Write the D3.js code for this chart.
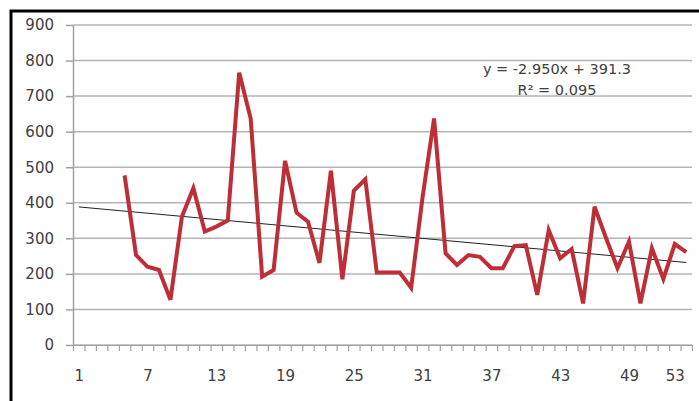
<!DOCTYPE html>
<html>
<head>
<meta charset="utf-8">
<script src="https://cdn.jsdelivr.net/npm/d3@7"></script>
<style>
  body { margin: 0; background: #fff; }
  text { font-family: "DejaVu Sans", sans-serif; fill: #404040; }
</style>
</head>
<body>
<div id="chart"></div>
<script>
// categories 1..54, the series begins at week 5
var categories = d3.range(1, 55)
var firstCat = 5
var values = [477, 253, 220, 211, 127, 361, 441, 319, 333, 350,
  766, 637, 192, 211, 518, 372, 347, 231, 490, 185,
  434, 466, 204, 204, 204, 161, 417, 637, 258, 225,
  253, 248, 216, 216, 278, 281, 141, 323, 244, 270,
  117, 389, 301, 216, 291, 117, 272, 186, 284, 261]
var xLabels = [1, 7, 13, 19, 25, 31, 37, 43, 49, 53]
var yTicks = [0, 100, 200, 300, 400, 500, 600, 700, 800, 900]
var trendSlope = -2.950
var trendIntercept = 391.3
var eqText = ['y = -2.950x + 391.3', 'R² = 0.095']

var W = 699, H = 401
var plotL = 73, plotR = 692, plotT = 25, plotB = 345

var svg = d3.select('#chart').append('svg')
  .attr('width', W).attr('height', H)

// outer frame (runs off the picture at right and bottom)
svg.append('rect')
  .attr('x', 11).attr('y', 11)
  .attr('width', W + 20).attr('height', H + 20)
  .attr('fill', 'none').attr('stroke', '#000').attr('stroke-width', 3)

var x = d3.scaleLinear().domain([0.5, categories.length + 0.5]).range([plotL, plotR])
var y = d3.scaleLinear().domain([0, 900]).range([plotB, plotT])

// gridlines
svg.append('g').selectAll('line').data(yTicks).enter().append('line')
  .attr('x1', plotL).attr('x2', plotR)
  .attr('y1', d => y(d)).attr('y2', d => y(d))
  .attr('stroke', '#b4b4b4').attr('stroke-width', 1.5)

// y axis
var yAxis = svg.append('g')
  .attr('transform', 'translate(' + plotL + ',0)')
  .call(d3.axisLeft(y).tickValues(yTicks).tickSize(7).tickPadding(12).tickSizeOuter(0))
yAxis.selectAll('path, line').attr('stroke', '#a0a0a0').attr('stroke-width', 1.5)
yAxis.selectAll('text').style('font-size', '15px').style('font-family', null).attr('fill', '#3a3a3a')

// x axis: tick marks between categories
var xTicks = svg.append('g')
  .attr('transform', 'translate(0,' + plotB + ')')
  .call(d3.axisBottom(x)
    .tickValues(d3.range(0.5, categories.length + 1, 1))
    .tickSize(6).tickSizeOuter(0).tickFormat(''))
xTicks.selectAll('path, line').attr('stroke', '#a0a0a0').attr('stroke-width', 1.2)

var xLab = svg.append('g')
  .attr('transform', 'translate(0,' + plotB + ')')
  .call(d3.axisBottom(x).tickValues(xLabels).tickSize(0).tickPadding(25))
xLab.select('.domain').remove()
xLab.selectAll('text').style('font-size', '15px').style('font-family', null).attr('fill', '#3a3a3a')

// trend line
var trend = [categories[0], categories[categories.length - 1]]
svg.append('line')
  .attr('x1', x(trend[0])).attr('y1', y(trendSlope * trend[0] + trendIntercept))
  .attr('x2', x(trend[1])).attr('y2', y(trendSlope * trend[1] + trendIntercept))
  .attr('stroke', '#222').attr('stroke-width', 1)

// series
var line = d3.line()
  .x((d, i) => x(firstCat + i))
  .y(d => y(d))
svg.append('path').datum(values)
  .attr('d', line)
  .attr('fill', 'none')
  .attr('stroke', '#be2e36')
  .attr('stroke-width', 4)
  .attr('stroke-linejoin', 'miter')

// regression label
svg.append('g').selectAll('text').data(eqText).enter().append('text')
  .attr('x', 557)
  .attr('y', (d, i) => 74 + i * 21)
  .attr('text-anchor', 'middle')
  .attr('font-size', 14.5)
  .text(d => d)
</script>
</body>
</html>
